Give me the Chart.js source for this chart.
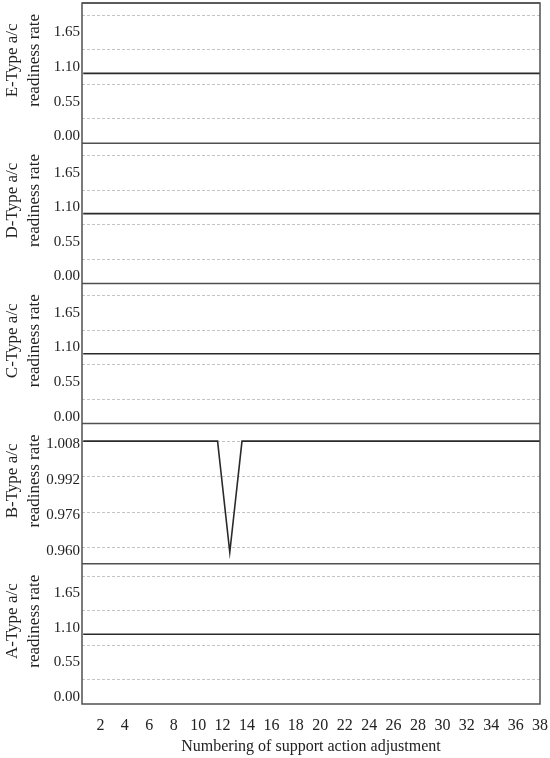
<!DOCTYPE html>
<html>
<head>
<meta charset="utf-8">
<script src="https://cdn.jsdelivr.net/npm/chart.js@4.4.0/dist/chart.umd.min.js"></script>
<style>
  html, body { margin: 0; padding: 0; background: #fff; }
  #wrap { width: 550px; height: 758px; }
</style>
</head>
<body>
<div id="wrap"><canvas id="chart"></canvas></div>
<script>
// support action adjustment numbers (x); the line runs on to the right edge
const adjustments = [1, 2, 3, 4, 5, 6, 7, 8, 9, 10, 11, 12, 13, 14, 15, 16, 17, 18, 19,
  20, 21, 22, 23, 24, 25, 26, 27, 28, 29, 30, 31, 32, 33, 34, 35, 36, 37, 38, 39];
const xTicks = [2, 4, 6, 8, 10, 12, 14, 16, 18, 20, 22, 24, 26, 28, 30, 32, 34, 36, 38];

// readiness rate per aircraft type
const typeE = [1, 1, 1, 1, 1, 1, 1, 1, 1, 1, 1, 1, 1, 1, 1, 1, 1, 1, 1, 1,
  1, 1, 1, 1, 1, 1, 1, 1, 1, 1, 1, 1, 1, 1, 1, 1, 1, 1, 1];
const typeD = [1, 1, 1, 1, 1, 1, 1, 1, 1, 1, 1, 1, 1, 1, 1, 1, 1, 1, 1, 1,
  1, 1, 1, 1, 1, 1, 1, 1, 1, 1, 1, 1, 1, 1, 1, 1, 1, 1, 1];
const typeC = [1, 1, 1, 1, 1, 1, 1, 1, 1, 1, 1, 1, 1, 1, 1, 1, 1, 1, 1, 1,
  1, 1, 1, 1, 1, 1, 1, 1, 1, 1, 1, 1, 1, 1, 1, 1, 1, 1, 1];
const typeB = [1.008, 1.008, 1.008, 1.008, 1.008, 1.008, 1.008, 1.008, 1.008, 1.008,
  1.008, 1.008, 0.958, 1.008, 1.008, 1.008, 1.008, 1.008, 1.008, 1.008, 1.008, 1.008,
  1.008, 1.008, 1.008, 1.008, 1.008, 1.008, 1.008, 1.008, 1.008, 1.008, 1.008, 1.008,
  1.008, 1.008, 1.008, 1.008, 1.008];
const typeA = [1, 1, 1, 1, 1, 1, 1, 1, 1, 1, 1, 1, 1, 1, 1, 1, 1, 1, 1, 1,
  1, 1, 1, 1, 1, 1, 1, 1, 1, 1, 1, 1, 1, 1, 1, 1, 1, 1, 1];

// y tick labels and dashed grid positions
const rateLabels = [0, 0.55, 1.10, 1.65];
const rateGrid = [0.275, 0.825, 1.375, 1.925];
const bLabels = [0.960, 0.976, 0.992, 1.008];
const bGrid = [0.960, 0.976, 0.992, 1.008];

const serif = "'Liberation Serif', 'Times New Roman', serif";
const near = (a, b) => Math.abs(a - b) < 1e-6;
// titles sit a little above the middle of each panel in the original
const lift = "      ";

function panelAxis(title, min, max, labels, grid, digits, labelOffset) {
  const all = [...new Set([...labels, ...grid])].sort((a, b) => a - b);
  return {
    type: "linear",
    position: "left",
    stack: "panels",
    stackWeight: 1,
    min: min,
    max: max,
    afterBuildTicks: (s) => { s.ticks = all.map((v) => ({ value: v })); },
    afterFit: (s) => {
      s.width = 82;
      s.paddingTop = 0;
      s.paddingBottom = 0;
    },
    border: {
      display: false,
      dash: [3, 2],
    },
    grid: {
      drawTicks: false,
      lineWidth: 1,
      color: (ctx) => ctx.tick && grid.some((g) => near(g, ctx.tick.value)) ? "#c4c4c4" : "rgba(0,0,0,0)",
    },
    ticks: {
      autoSkip: false,
      padding: 2,
      labelOffset: labelOffset,
      color: "#222",
      font: { family: serif, size: 15 },
      callback: (v) => labels.some((l) => near(l, v)) ? Number(v).toFixed(digits) : "",
    },
    title: {
      display: true,
      text: [lift + title, lift + "readiness rate"],
      color: "#222",
      font: { family: serif, size: 17, lineHeight: 1.3 },
      padding: { top: 1, bottom: 0 },
    },
  };
}

function series(values, axis) {
  return {
    data: adjustments.map((x, i) => ({ x: x, y: values[i] })),
    yAxisID: axis,
    borderColor: "#2a2a2a",
    borderWidth: 1.6,
    pointRadius: 0,
    tension: 0,
    fill: false,
  };
}

const framePlugin = {
  id: "frame",
  afterDatasetsDraw(chart) {
    const { ctx, chartArea: a } = chart;
    ctx.save();
    ctx.strokeStyle = "#505050";
    ctx.lineWidth = 1.5;
    ctx.strokeRect(a.left, a.top, a.right - a.left, a.bottom - a.top);
    ["yA", "yB", "yC", "yD", "yE"].forEach((id) => {
      const s = chart.scales[id];
      ctx.beginPath();
      ctx.moveTo(a.left, s.top);
      ctx.lineTo(a.right, s.top);
      ctx.stroke();
    });
    ctx.restore();
  },
};

new Chart(document.getElementById("chart"), {
  type: "line",
  plugins: [framePlugin],
  data: {
    datasets: [
      series(typeE, "yE"),
      series(typeD, "yD"),
      series(typeC, "yC"),
      series(typeB, "yB"),
      series(typeA, "yA"),
    ],
  },
  options: {
    responsive: true,
    maintainAspectRatio: false,
    animation: false,
    layout: { padding: { top: 3, right: 10, left: 0, bottom: 0 } },
    plugins: { legend: { display: false }, tooltip: { enabled: false } },
    scales: {
      x: {
        type: "linear",
        min: 0.9,
        max: 38.4,
        afterBuildTicks: (s) => { s.ticks = xTicks.map((v) => ({ value: v })); },
        afterFit: (s) => {
          s.height = 54;
          s.paddingLeft = 0;
          s.paddingRight = 0;
        },
        grid: { display: false },
        border: { display: false },
        ticks: {
          autoSkip: false,
          maxRotation: 0,
          labelOffset: 5,
          padding: 4,
          color: "#222",
          font: { family: serif, size: 16 },
        },
        title: {
          display: true,
          text: "Numbering of support action adjustment",
          color: "#222",
          font: { family: serif, size: 16 },
          padding: { top: 0, bottom: 2 },
        },
      },
      // stacked bottom to top
      yA: panelAxis("A-Type a/c", -0.11, 2.12, rateLabels, rateGrid, 2, 0),
      yB: panelAxis("B-Type a/c", 0.9528, 1.0159, bLabels, bGrid, 3, 3),
      yC: panelAxis("C-Type a/c", -0.11, 2.12, rateLabels, rateGrid, 2, 0),
      yD: panelAxis("D-Type a/c", -0.11, 2.12, rateLabels, rateGrid, 2, 0),
      yE: panelAxis("E-Type a/c", -0.11, 2.12, rateLabels, rateGrid, 2, 0),
    },
  },
});
</script>
</body>
</html>
